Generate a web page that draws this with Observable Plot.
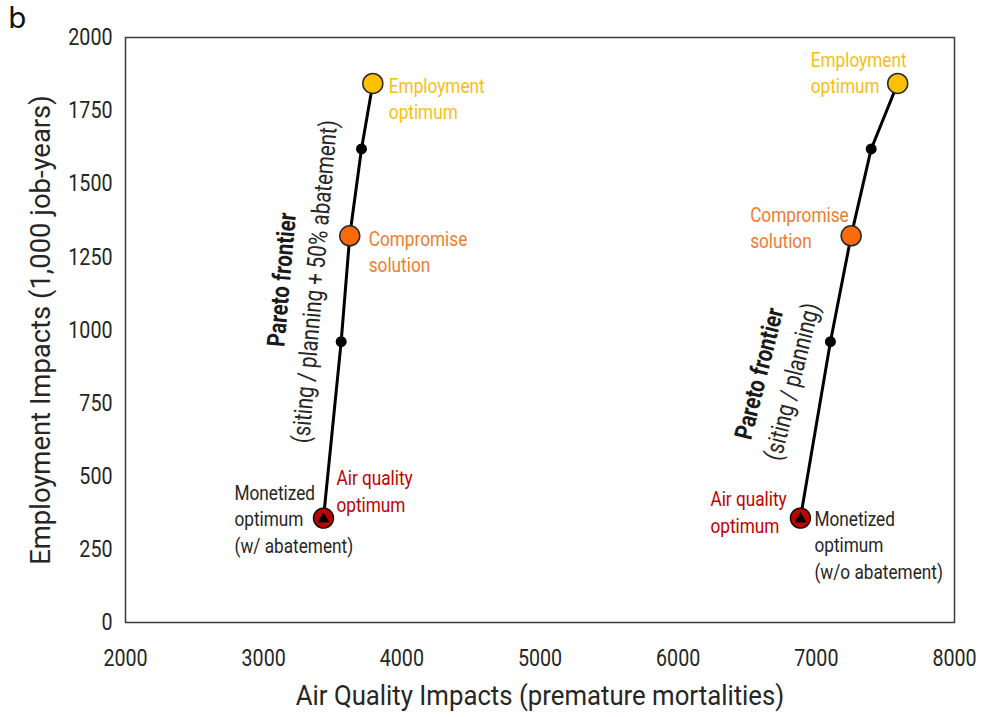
<!DOCTYPE html>
<html><head><meta charset="utf-8">
<script src="https://cdn.jsdelivr.net/npm/d3@7"></script>
<script src="https://cdn.jsdelivr.net/npm/@observablehq/plot@0.6"></script>
<style>
body{margin:0;background:#fff;}
#wrap{position:relative;width:982px;height:717px;}
#panel{position:absolute;left:8px;top:4px;font:29px "DejaVu Sans",sans-serif;color:#111;line-height:1;}
</style></head><body><div id="wrap"><div id="panel">b</div></div>
<script>
// ---- data ----
const seriesNames = ["with abatement", "without abatement"];
const pointKinds = ["airquality", "mid", "compromise", "mid", "employment"];
const employmentImpacts = [357, 960, 1322, 1619, 1843];
const airQualityWithAbatement = [3433, 3561, 3623, 3708, 3790];
const airQualityWithoutAbatement = [6885, 7102, 7252, 7397, 7589];
const xTicks = [2000, 3000, 4000, 5000, 6000, 7000, 8000];
const yTicks = [0, 250, 500, 750, 1000, 1250, 1500, 1750, 2000];
const xTitle = "Air Quality Impacts (premature mortalities)";
const yTitle = "Employment Impacts (1,000 job-years)";

const FONT = 'Roboto,"Liberation Sans",sans-serif';
const SQUEEZE = 0.82; // condensed look
const TITLE_SQUEEZE = {[xTitle]: 0.92, [yTitle]: 0.98};

const rows = [];
[airQualityWithAbatement, airQualityWithoutAbatement].forEach((xs, s) => {
  xs.forEach((x, i) => rows.push({series: seriesNames[s], x, y: employmentImpacts[i], kind: pointKinds[i], i}));
});
const pick = (s, kind) => rows.filter(d => d.series === seriesNames[s] && d.kind === kind);
const midA = rows.filter(d => d.series === seriesNames[0] && d.i === 1);
const midB = rows.filter(d => d.series === seriesNames[1] && d.i === 1);

const lab = (data, text, fill, dx, dy, extra = {}) =>
  Plot.text(data, {x: "x", y: "y", text: () => text, fill, dx, dy, textAnchor: "start",
    fontSize: 21, lineHeight: 1.25, ...extra});

const chart = Plot.plot({
  width: 982, height: 717,
  marginLeft: 125, marginRight: 28, marginTop: 37, marginBottom: 95,
  style: {fontFamily: FONT, background: "white", color: "#262626", overflow: "visible"},
  x: {domain: [2000, 8000]},
  y: {domain: [0, 2000]},
  marks: [
    Plot.axisX({ticks: xTicks, tickSize: 0, tickPadding: 26, fontSize: 24, label: null, tickFormat: d => String(d)}),
    Plot.axisY({ticks: yTicks, tickSize: 0, tickPadding: 13, fontSize: 24, label: null, tickFormat: d => String(d)}),
    Plot.text([xTitle], {frameAnchor: "bottom", dy: 74, text: d => d, fontSize: 28, fill: "#262626", textAnchor: "middle", lineAnchor: "middle"}),
    Plot.text([yTitle], {frameAnchor: "left", dx: -84, rotate: -90, text: d => d, fontSize: 28, fill: "#262626", textAnchor: "middle", lineAnchor: "middle"}),
    Plot.frame({stroke: "#3a3a3a", strokeWidth: 1.5}),
    Plot.line(rows, {x: "x", y: "y", z: "series", stroke: "black", strokeWidth: 3}),
    Plot.dot(rows.filter(d => d.kind === "mid"), {x: "x", y: "y", r: 5.5, fill: "black"}),
    Plot.dot(rows.filter(d => d.kind === "employment"), {x: "x", y: "y", r: 10, fill: "#FFC000", stroke: "#2a2a2a", strokeWidth: 1.5}),
    Plot.dot(rows.filter(d => d.kind === "compromise"), {x: "x", y: "y", r: 10, fill: "#FF6A0A", stroke: "#2a2a2a", strokeWidth: 1.5}),
    Plot.dot(rows.filter(d => d.kind === "airquality"), {x: "x", y: "y", r: 10, fill: "#C00000", stroke: "#111", strokeWidth: 1.5}),
    Plot.dot(rows.filter(d => d.kind === "airquality"), {x: "x", y: "y", r: 4.5, symbol: "triangle", fill: "black", dy: 1}),
    // labels, left series
    lab(pick(0, "employment"), "Employment\noptimum", "#F7BE12", 16, 14),
    lab(pick(0, "compromise"), "Compromise\nsolution", "#ED7D31", 19, 14.5),
    lab(pick(0, "airquality"), "Air quality\noptimum", "#C00000", 13, -28),
    lab(pick(0, "airquality"), "Monetized\noptimum\n(w/ abatement)", "#262626", -89, 0),
    // labels, right series
    lab(pick(1, "employment"), "Employment\noptimum", "#F7BE12", -87, -12),
    lab(pick(1, "compromise"), "Compromise\nsolution", "#ED7D31", -101, -9),
    lab(pick(1, "airquality"), "Air quality\noptimum", "#C00000", -90, -7),
    lab(pick(1, "airquality"), "Monetized\noptimum\n(w/o abatement)", "#262626", 14, 26),
    // frontier labels
    Plot.text(midA, {x: "x", y: "y", text: () => "Pareto frontier", rotate: -85, dx: -59, dy: -62, fontSize: 25, fontWeight: "bold", fill: "#1a1a1a"}),
    Plot.text(midA, {x: "x", y: "y", text: () => "(siting / planning + 50% abatement)", rotate: -85, dx: -26, dy: -60, fontSize: 25, fill: "#262626"}),
    Plot.text(midB, {x: "x", y: "y", text: () => "Pareto frontier", rotate: -76, dx: -71, dy: 32, fontSize: 25, fontWeight: "bold", fill: "#1a1a1a"}),
    Plot.text(midB, {x: "x", y: "y", text: () => "(siting / planning)", rotate: -76, dx: -38, dy: 40, fontSize: 25, fill: "#262626"})
  ]
});
// condense every text horizontally around its own anchor
chart.querySelectorAll("text").forEach(t => {
  const s = TITLE_SQUEEZE[t.textContent] ?? SQUEEZE;
  const tr = t.getAttribute("transform");
  if (tr) {
    t.setAttribute("transform", tr + ` scale(${s},1)`);
  } else {
    const x = +(t.getAttribute("x") || 0), y = +(t.getAttribute("y") || 0);
    t.setAttribute("transform", `translate(${x},${y}) scale(${s},1) translate(${-x},${-y})`);
  }
});
document.getElementById("wrap").prepend(chart);
</script>
</body></html>
